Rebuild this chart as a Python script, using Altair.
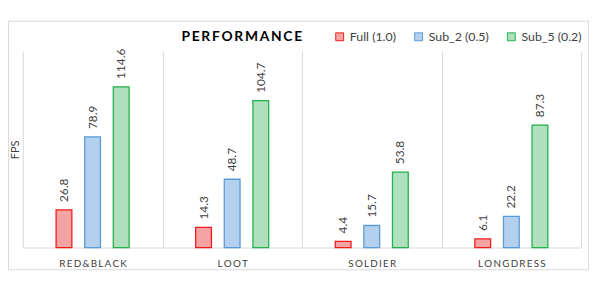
import altair as alt
import pandas as pd

categories = ["RED&BLACK", "LOOT", "SOLDIER", "LONGDRESS"]
series = ["Full (1.0)", "Sub_2 (0.5)", "Sub_5 (0.2)"]
full = [26.8, 14.3, 4.4, 6.1]
sub2 = [78.9, 48.7, 15.7, 22.2]
sub5 = [114.6, 104.7, 53.8, 87.3]

TS = "\u2009"  # thin space for letter spacing
def spaced(s):
    return TS.join(list(s))

rows = []
for i, c in enumerate(categories):
    for s, vals in zip(series, [full, sub2, sub5]):
        rows.append({"cat": c, "catl": spaced(c), "series": s, "fps": vals[i]})
df = pd.DataFrame(rows)

fills = ["#f6a3a3", "#b3d0ee", "#aee0bd"]
strokes = ["#ee1c1c", "#5b9bd5", "#22b14c"]
font = "Lato"

W, H = 566, 199

xenc = alt.X("catl:N", sort=[spaced(c) for c in categories],
             scale=alt.Scale(paddingInner=0, paddingOuter=0),
             axis=alt.Axis(title=None, tickBand="extent", grid=True, gridColor="#d9d9d9",
                           domainColor="#d9d9d9", ticks=False, labelAngle=0,
                           labelFont=font, labelFontSize=10, labelColor="#404040",
                           labelPadding=11))
xoff = alt.XOffset("series:N", sort=series,
                   scale=alt.Scale(paddingInner=0, paddingOuter=0.94))
yenc = alt.Y("fps:Q", scale=alt.Scale(domain=[0, 140]), axis=None)

base = alt.Chart(df)

bars = base.mark_bar(strokeWidth=1.3, width=16).encode(
    x=xenc, xOffset=xoff, y=yenc,
    fill=alt.Fill("series:N", sort=series, scale=alt.Scale(domain=series, range=fills),
                  legend=alt.Legend(title=None, orient="none", direction="horizontal",
                                    legendX=315, legendY=-21, symbolType="square",
                                    symbolSize=64, labelFont=font, labelFontSize=12.5,
                                    labelColor="#404040", columnPadding=16, labelOffset=4,
                                    symbolStrokeWidth=1)),
    stroke=alt.Stroke("series:N", sort=series, scale=alt.Scale(domain=series, range=strokes),
                      legend=None),
)

labels = base.mark_text(angle=270, align="left", baseline="middle", dx=8,
                        font=font, fontSize=12, color="#404040").encode(
    x=xenc, xOffset=xoff, y=yenc, text=alt.Text("fps:Q", format=".1f"),
)

one = alt.Chart(pd.DataFrame({"a": [0]}))
border = one.mark_rect(fill=None, stroke="#d9d9d9", strokeWidth=1).encode(
    x=alt.value(-14.5), x2=alt.value(573.5), y=alt.value(-30.5), y2=alt.value(221.5))
title = one.mark_text(font=font, fontSize=14, fontWeight="bold", color="#000000",
                      baseline="middle").encode(
    x=alt.value(222), y=alt.value(-14), text=alt.value(spaced("PERFORMANCE")))
ytitle = one.mark_text(font=font, fontSize=11, angle=270, color="#404040",
                       baseline="middle").encode(
    x=alt.value(-7), y=alt.value(100), text=alt.value("FPS"))

chart = alt.layer(border, bars, labels, title, ytitle).properties(
    width=W, height=H,
    autosize=alt.AutoSizeParams(type="none"),
    padding={"left": 15, "top": 42, "right": 9, "bottom": 24},
).configure_view(stroke=None)

chart.save("out.html", embed_options={"renderer": "svg", "actions": False})
